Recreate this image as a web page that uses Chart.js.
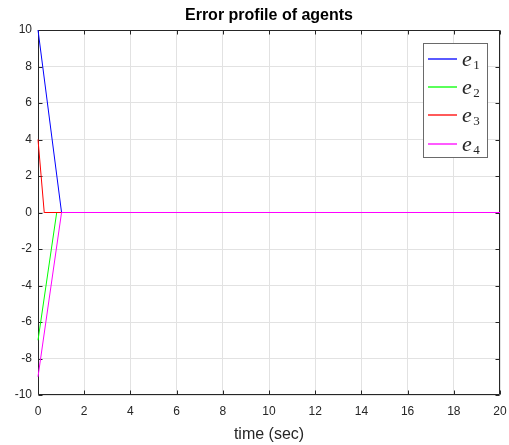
<!DOCTYPE html>
<html><head><meta charset="utf-8">
<script src="https://cdn.jsdelivr.net/npm/chart.js@4/dist/chart.umd.min.js"></script>
<style>html,body{margin:0;padding:0;background:#fff;}#wrap{width:509px;height:445px;position:relative;}</style>
</head><body><div id="wrap"><canvas id="c"></canvas></div>
<script>
// ---- data ----
const seriesBase = ['e', 'e', 'e', 'e'];
const seriesSub = ['1', '2', '3', '4'];
const seriesColors = ['#0000ff', '#00ff00', '#ff0000', '#ff00ff'];
const time1 = [0, 1.02, 20];
const err1 = [10, 0, 0];
const time2 = [0, 0.81, 20];
const err2 = [-7, 0, 0];
const time3 = [0, 0.27, 20];
const err3 = [4, 0, 0];
const time4 = [0, 1.02, 20];
const err4 = [-9, 0, 0];
const xTickValues = [0, 2, 4, 6, 8, 10, 12, 14, 16, 18, 20];
const yTickValues = [-10, -8, -6, -4, -2, 0, 2, 4, 6, 8, 10];
const titleText = 'Error profile of agents';
const xTitleText = 'time (sec)';

const times = [time1, time2, time3, time4];
const errs = [err1, err2, err3, err4];

const datasets = errs.map((e, i) => ({
  label: seriesBase[i] + seriesSub[i],
  data: e.map((v, j) => ({x: times[i][j], y: v})),
  borderColor: seriesColors[i],
  backgroundColor: seriesColors[i],
  borderWidth: 1,
  pointRadius: 0,
  tension: 0,
  fill: false,
  clip: 2,
  order: 4 - i
}));

const FONT = "'Liberation Sans', Arial, sans-serif";
const TXT = '#262626';

const boxPlugin = {
  id: 'boxPlugin',
  beforeDatasetsDraw(chart) {
    const ctx = chart.ctx;
    const a = chart.chartArea;
    const xs = chart.scales.x, ys = chart.scales.y;
    ctx.save();
    ctx.strokeStyle = TXT;
    ctx.lineWidth = 1;
    const L = Math.round(a.left) + 0.5, R = Math.round(a.right) - 0.5;
    const T = Math.round(a.top) + 0.5, B = Math.round(a.bottom) - 0.5;
    ctx.beginPath();
    ctx.rect(L, T, R - L, B - T);
    ctx.stroke();
    const tl = 4;
    ctx.beginPath();
    xTickValues.forEach(v => {
      const p = Math.round(xs.getPixelForValue(v)) + 0.5;
      ctx.moveTo(p, B); ctx.lineTo(p, B - tl);
      ctx.moveTo(p, T); ctx.lineTo(p, T + tl);
    });
    yTickValues.forEach(v => {
      const p = Math.round(ys.getPixelForValue(v)) + 0.5;
      ctx.moveTo(L, p); ctx.lineTo(L + tl, p);
      ctx.moveTo(R, p); ctx.lineTo(R - tl, p);
    });
    ctx.stroke();
    ctx.restore();
  },
  afterDraw(chart) {
    const ctx = chart.ctx;
    ctx.save();
    // legend
    const lx = 423.5, ly = 43.5, lw = 64, lh = 114;
    ctx.fillStyle = '#fff';
    ctx.fillRect(lx, ly, lw, lh);
    ctx.strokeStyle = '#6a6a6a';
    ctx.lineWidth = 1;
    ctx.strokeRect(lx, ly, lw, lh);
    const y0 = 58.5, dy = 28.4;
    for (let i = 0; i < seriesBase.length; i++) {
      const y = Math.round(y0 + i * dy);
      ctx.strokeStyle = seriesColors[i];
      ctx.lineWidth = 1.3;
      ctx.beginPath();
      ctx.moveTo(428, y); ctx.lineTo(457, y);
      ctx.stroke();
      ctx.fillStyle = '#262626';
      ctx.textBaseline = 'alphabetic';
      ctx.textAlign = 'left';
      ctx.font = "italic 22px 'Liberation Serif', 'DejaVu Serif', serif";
      ctx.fillText(seriesBase[i], 462, y + 6.5);
      const w = ctx.measureText(seriesBase[i]).width;
      ctx.font = "13px 'Liberation Serif', 'DejaVu Serif', serif";
      ctx.fillText(seriesSub[i], 462 + w + 1.5, y + 10);
    }
    ctx.restore();
  }
};

new Chart(document.getElementById('c'), {
  type: 'line',
  data: { datasets },
  plugins: [boxPlugin],
  options: {
    responsive: true,
    maintainAspectRatio: false,
    animation: false,
    devicePixelRatio: 1,
    layout: { padding: { left: 0, right: 9, top: 0, bottom: 0 } },
    plugins: {
      legend: { display: false },
      tooltip: { enabled: false },
      title: {
        display: true,
        text: titleText,
        fullSize: false,
        color: '#000',
        font: { family: FONT, size: 16, weight: 'bold', lineHeight: 1.2 },
        padding: { top: 6.4, bottom: 4.4 }
      }
    },
    scales: {
      x: {
        type: 'linear',
        min: 0, max: 20,
        afterFit(s) { s.height = 50; s.paddingLeft = 0; s.paddingRight = 0; },
        afterBuildTicks(s) { s.ticks = xTickValues.map(v => ({value: v})); },
        ticks: { color: TXT, font: { family: FONT, size: 12 }, padding: 9, maxRotation: 0, autoSkip: false },
        grid: { color: '#e2e2e2', drawTicks: false, lineWidth: 1 },
        border: { display: false },
        title: { display: true, text: xTitleText, color: TXT, font: { family: FONT, size: 16, lineHeight: 1.2 }, padding: { top: 0, bottom: 0.5 } }
      },
      y: {
        type: 'linear',
        min: -10, max: 10,
        afterFit(s) { s.width = 38; s.paddingTop = 0; s.paddingBottom = 0; },
        afterBuildTicks(s) { s.ticks = yTickValues.map(v => ({value: v})); },
        ticks: { color: TXT, font: { family: FONT, size: 12 }, padding: 6, autoSkip: false },
        grid: { color: '#e2e2e2', drawTicks: false, lineWidth: 1 },
        border: { display: false }
      }
    }
  }
});
</script></body></html>
